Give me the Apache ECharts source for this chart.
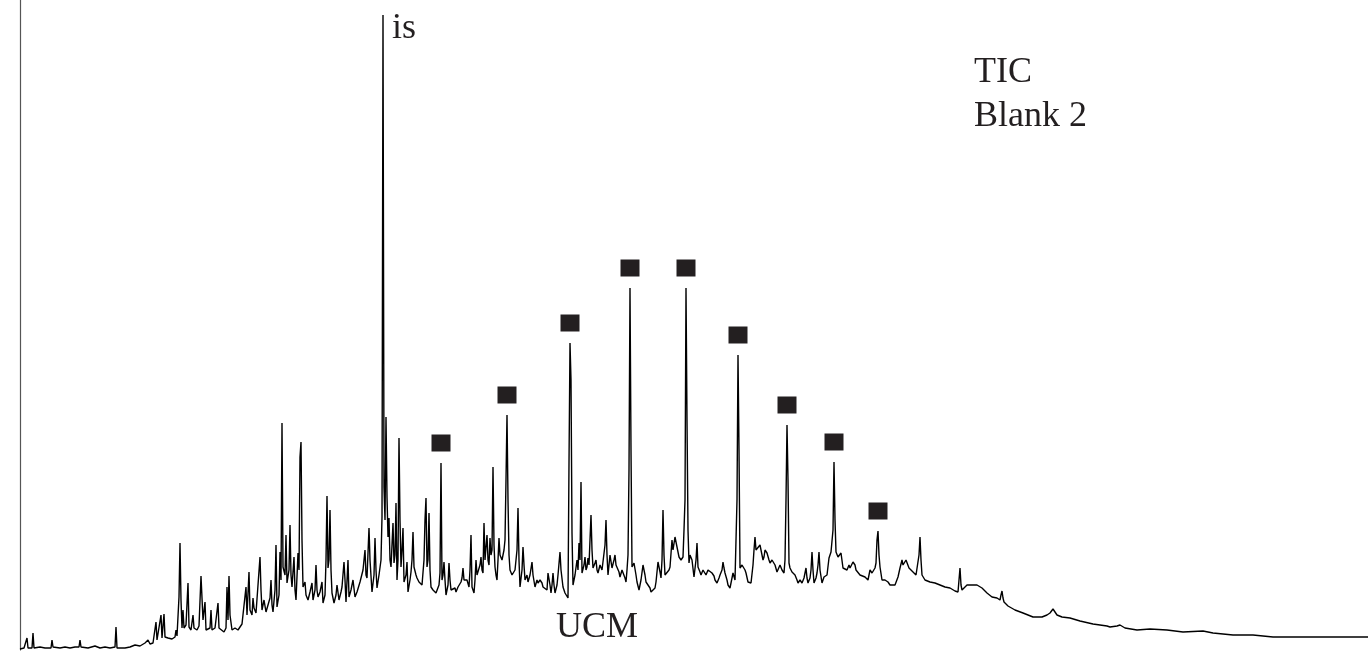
<!DOCTYPE html>
<html>
<head>
<meta charset="utf-8">
<script src="https://cdn.jsdelivr.net/npm/echarts@6/dist/echarts.min.js"></script>
<style>
html,body{margin:0;padding:0;background:#fff;}
#chart{width:1368px;height:652px;}
</style>
</head>
<body>
<div id="chart"></div>
<script>
// TIC chromatogram, Blank 2: [scan, abundance]
const ticEarly = [[20,1],[24,2],[26,2],[27,12],[28,2],[32,2],[33,17],[34,2],[40,3],[45,2],[51,2],[52,10],[53,3],[60,2],[65,3],[70,2],[75,3],[79,3],[80,10],[81,3],[88,2],[95,4],[100,2],[105,3],[110,2],[115,3],[116,23],[117,2],[125,2],[130,3],[135,5],[140,4],[145,7],[148,10],[150,6],[153,7],[155,9],
[156,28],[157,10],[159,12],[161,35],[162,12],[164,36],[165,13],[168,12],[172,11],[175,13],[176,20],[177,14],[179,53],[180,107],[181,50],[182,22],[183,40],[184,22],[186,25],[188,67],[189,23],[191,20],[193,35],[194,22],[197,20],[199,24],[201,74],[202,73],[203,30],[205,48],[206,20],[208,18],[210,22],[211,40],[212,20],[215,22],[217,20],[218,47],[219,22],[221,20],[224,18],[226,22],[227,63],[228,30],[229,74],[230,35],[232,20],[235,22],[238,20],[240,23],[242,26],[244,28],[246,63],[247,35],[249,78],[250,40],[252,35],[253,52],[254,42],[256,37],[258,38],[260,93],[261,60]];

const ticMid1 = [[262,40],[264,50],[266,38],[268,37],[270,52],[271,70],[272,45],[273,38],[275,60],[276,105],[277,43],[279,55],[280,98],[281,70],[282,227],[283,83],[285,75],[286,115],[287,67],[289,80],[290,125],[291,75],[292,63],[294,93],[295,60],[296,50],[298,97],[299,80],[300,193],[301,208],[302,110],[303,63],[305,68],[306,55],[308,50],[310,58],[312,67],[313,50],[315,60],[316,85],[317,60],[318,53],[320,58],[322,68],[323,47],[325,55],[326,90],[327,154],[328,82],[329,90],[330,140],[331,80],[332,57],[334,47],[336,55],[337,65],[339,50],[341,58],[342,63],[344,88],[345,70],[346,48],[348,90],[349,53],[351,60],[353,70],[355,53],[357,58],[358,60],[360,68],[361,68],[363,80],[365,100],[366,75],[367,72],[369,122],[370,90],[372,58],[374,75],[375,112],[376,80],[377,62],[379,75],[380,77],[381,90],[382,133],[383,635],[384,163],[385,130],[386,233],[387,153],
[388,113],[389,132],[390,90],[391,83],[392,105],[393,127],[394,87],[395,95],[396,147],[397,70],[398,90],[399,212],[400,130],[401,83],[402,100],[403,122],[404,68],[406,75],[407,88],[408,58],[410,70],[411,78],[412,90],[413,118],[414,83],[416,75],[417,72],[419,68],[421,70],[422,65],[423,67],[424,90],[425,130],[426,152],[427,83],[428,90],[429,137],[430,80],[431,63],[433,60],[435,62],[436,57],[438,55],[439,65],[440,77],[441,187],[442,70],[443,75],[444,88],[445,70],[446,55],[448,65],[449,87],[450,70],[451,60],[453,58],[455,62],[456,58],[458,63],[460,65],[461,68],[462,72],[463,82],[464,70],[465,68],[467,70],[469,63],[470,80],[471,115],[472,63],[474,57],[475,70],[476,90],[477,75],[478,77],[480,85],[481,93],[482,80],[483,77],[484,127],[485,90],[486,103],[487,115],[488,90],[489,85],[490,112],[491,95],[492,100],[493,183],[494,105],[495,83],[496,75],[497,70],[498,90],[499,112],[500,95]];

const ticMid2 = [[502,90],[504,100],[505,110],[506,170],[507,235],[508,150],[509,95],[510,80],[512,75],[513,73],[515,80],[517,100],[518,142],[519,90],[520,63],[522,80],[523,103],[524,85],[525,70],[527,75],[528,68],[530,75],[532,88],[533,75],[535,63],[537,70],[538,67],[540,70],[541,72],[542,67],[543,63],[545,65],[547,60],[548,77],[550,65],[551,57],[552,65],[553,77],[554,65],[555,57],[557,65],[558,75],[560,98],[561,80],[563,63],[565,57],[567,55],[568,52],[569,187],[570,307],[571,270],[572,117],[573,65],
[575,75],[577,90],[578,80],[579,107],[580,90],[581,168],[582,77],[584,85],[585,93],[586,80],[587,83],[588,92],[589,85],[590,110],[591,135],[592,100],[593,82],[595,87],[596,90],[597,80],[598,77],[600,85],[601,87],[602,80],[603,80],[605,105],[606,130],[607,95],[608,75],[609,85],[610,95],[612,82],[613,80],[614,90],[615,95],[616,85],[617,87],[619,78],[620,73],[622,80],[623,82],[625,72],[626,68],[627,80],[628,95],[629,180],[630,362],[631,200],[632,83],[633,85],[634,87],[636,75],[637,68],[639,60],[641,70],[643,85],[645,75],[646,68],[648,70],[650,62],[651,58],[653,57],[655,62],[656,68],[658,88],[660,78],[661,72],[662,90],[663,140],[664,95],[665,75],[667,77],[669,80],[670,83],[672,110],[673,100],[675,113],[677,103],[679,93],[681,90],[682,88],[683,93],[684,120],[685,150],[686,362],[687,230],[688,120],[689,87]];

const ticLate = [[690,95],[692,90],[694,73],[696,90],[697,107],[698,83],[700,78],[701,75],[703,80],[705,78],[706,75],[708,80],[710,78],[712,77],[714,74],[715,70],[717,67],[719,72],[720,75],[722,80],[723,88],[724,82],[725,77],[727,70],[728,65],[730,62],[731,60],[733,77],[735,70],[736,70],[737,150],[738,295],[739,200],[740,82],[742,85],[743,87],[745,80],[746,77],[748,68],[750,70],[751,67],[753,85],[754,100],[755,113],[756,100],[758,98],[760,105],[762,103],[763,90],[764,93],[765,100],[767,97],[769,90],[770,87],[772,90],[773,92],[775,85],[777,78],[778,80],[780,85],[782,80],[784,77],[785,90],[786,150],[787,225],[788,170],[789,87],
[790,82],[792,78],[794,77],[795,75],[797,70],[798,67],[800,70],[802,67],[804,72],[806,82],[807,72],[808,67],[810,72],[811,80],[812,98],[813,80],[814,67],[816,72],[817,77],[818,85],[819,98],[820,80],[822,67],[824,73],[826,72],[827,75],[829,92],[831,98],[832,100],[833,120],[834,188],[835,130],[836,98],[838,93],[840,95],[841,97],[843,82],[845,80],[847,80],[849,85],[850,82],[852,84],[853,88],[855,85],[856,80],[858,78],[860,75],[862,74],[865,73],[867,72],[868,70],[870,80],[872,77],[873,77],[875,82],[876,87],[877,110],[878,119],[879,95],[880,83],[882,70]];

const ticTail = [[885,70],[888,68],[890,65],[892,63],[895,65],[898,73],[900,82],[902,90],[903,85],[904,83],[906,90],[907,88],[909,82],[911,80],[913,78],[916,75],[918,77],[919,95],[920,113],[921,90],[922,75],[925,70],[930,68],[935,67],[940,65],[945,63],[950,62],[955,59],[958,58],[959,70],[960,82],[961,65],[962,60],[967,65],[973,65],[977,65],[982,62],[987,57],[992,53],[997,52],[1000,50],[1001,55],[1002,59],[1003,52],[1004,48],[1008,44],[1015,40],[1023,37],[1033,33],[1042,33],[1047,35],[1050,37],[1052,39],[1053,41],[1055,38],[1057,35],[1062,33],[1070,32],[1080,29],[1093,26],[1100,25],[1107,24],[1110,23],[1117,24],[1120,25],[1125,22],[1137,20],[1150,21],[1167,20],[1183,18],[1203,19],[1213,17],[1233,15],[1253,15],[1273,13],[1300,13],[1333,13],[1368,13]];

// n-alkane peaks marked with black squares
const alkaneScans = [441, 507, 570, 630, 686, 738, 787, 834, 878];
const alkaneHeights = [187, 235, 307, 362, 362, 295, 225, 188, 119];

// annotations
const isLabel = 'is';
const titleLines = ['TIC', 'Blank 2'];
const humpLabel = 'UCM';

const tic = [].concat(ticEarly, ticMid1, ticMid2, ticLate, ticTail);
const markers = alkaneScans.map((s, i) => [s, alkaneHeights[i]]);

const ink = '#231f20';
const font = '"Liberation Serif", "Times New Roman", serif';

const chart = echarts.init(document.getElementById('chart'), null, {renderer: 'canvas'});
chart.setOption({
  animation: false,
  backgroundColor: '#ffffff',
  grid: {left: 20, right: 0, top: 0, bottom: 2, containLabel: false},
  xAxis: {
    type: 'value', min: 20, max: 1368,
    axisLine: {show: false}, axisTick: {show: false}, axisLabel: {show: false}, splitLine: {show: false}
  },
  yAxis: {
    type: 'value', min: 0, max: 650,
    axisLine: {show: true, lineStyle: {color: '#555', width: 1.2}},
    axisTick: {show: false}, axisLabel: {show: false}, splitLine: {show: false}
  },
  series: [
    {
      type: 'line', data: tic, showSymbol: false, sampling: null, clip: false,
      lineStyle: {color: '#000000', width: 1.4}, silent: true
    },
    {
      type: 'scatter', data: markers, symbol: 'rect', symbolSize: [19, 17], symbolOffset: [0, -20],
      itemStyle: {color: ink, opacity: 1}, silent: true
    }
  ],
  graphic: [
    {type: 'text', left: 392, top: 11, style: {text: isLabel, font: '36px ' + font, fill: ink}},
    {type: 'text', left: 974, top: 55, style: {text: titleLines[0], font: '36px ' + font, fill: ink}},
    {type: 'text', left: 974, top: 99, style: {text: titleLines[1], font: '36px ' + font, fill: ink}},
    {type: 'text', left: 556, top: 610, style: {text: humpLabel, font: '36px ' + font, fill: ink}}
  ]
});
</script>
</body>
</html>
